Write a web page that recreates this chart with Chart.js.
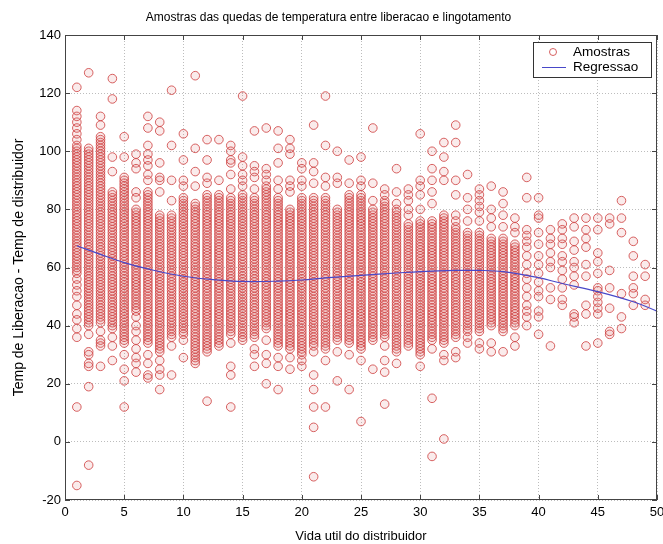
<!DOCTYPE html>
<html>
<head>
<meta charset="utf-8">
<title>Amostras das quedas de temperatura</title>
<script src="https://cdn.jsdelivr.net/npm/chart.js@4/dist/chart.umd.min.js"></script>
<style>
  html, body { margin: 0; padding: 0; background: #ffffff; }
  #wrap { width: 663px; height: 544px; position: relative; }
</style>
</head>
<body>
<div id="wrap"><canvas id="quedaChart"></canvas></div>
<script>
// Vida util (x) 1..50 - faixa densa de amostras por coluna (lo..hi, valores inteiros)
const vidaUtil = [
  1, 2, 3, 4, 5, 6, 7, 8, 9, 10,
  11, 12, 13, 14, 15, 16, 17, 18, 19, 20,
  21, 22, 23, 24, 25, 26, 27, 28, 29, 30,
  31, 32, 33, 34, 35, 36, 37, 38, 39, 40,
  41, 42, 43, 44, 45, 46, 47, 48, 49, 50
];
const faixaMin = [
  58, 40, 41, 39, 34, 45, 34, 31, 36, 37,
  27, 32, 33, 37, 35, 36, 39, 33, 32, 30,
  33, 32, 35, 34, 32, 35, 36, 31, 33, 30,
  35, 34, 36, 38, 38, 40, 38, 40, null, null,
  null, null, null, null, null, null, null, null, null, null
];
const faixaMax = [
  102, 101, 105, 86, 91, 80, 86, 78, 78, 84,
  82, 85, 84, 84, 85, 84, 88, 84, 80, 84,
  84, 84, 80, 85, 85, 80, 83, 80, 75, 76,
  76, 78, 74, 72, 72, 70, 70, 68, null, null,
  null, null, null, null, null, null, null, null, null, null
];

// Amostras isoladas fora da faixa densa, por coluna
const avulsas = [
  [104, 106, 108, 110, 112, 114, 122, 56, 54, 52, 50, 47, 44, 42, 39, 36, 12, -15],
  [127, 37, 31, 30, 27, 26, 19, -8],
  [112, 109, 38, 35, 34, 33, 26],
  [125, 118, 98, 93, 36, 33, 28],
  [105, 98, 30, 25, 21, 12],
  [99, 96, 94, 86, 84, 43, 40, 38, 35, 32, 29, 27, 24],
  [112, 108, 102, 99, 97, 95, 92, 90, 30, 27, 23, 22],
  [110, 107, 96, 91, 90, 86, 28, 25, 23, 18],
  [121, 102, 90, 83, 33, 23],
  [106, 97, 90, 88, 35, 29],
  [126, 101, 93, 88],
  [104, 97, 91, 89, 31, 14],
  [104, 90, 85],
  [102, 100, 97, 96, 92, 87, 34, 26, 23, 12],
  [119, 98, 95, 92, 90, 88],
  [107, 95, 93, 91, 87, 32, 30, 26],
  [108, 94, 92, 90, 35, 30, 27, 20],
  [107, 101, 96, 90, 87, 29, 26, 18],
  [104, 101, 99, 90, 88, 86, 29, 25],
  [96, 94, 90, 88, 28, 26],
  [109, 96, 93, 89, 31, 23, 18, 12, 5, -12],
  [119, 102, 91, 88, 28, 12],
  [100, 91, 89, 31, 21],
  [97, 89, 30, 18],
  [98, 90, 88, 28, 7],
  [108, 89, 83, 25],
  [87, 85, 33, 28, 24, 13],
  [94, 86, 82, 27],
  [87, 85, 83, 80, 78],
  [106, 90, 88, 85, 80, 26],
  [100, 94, 90, 86, 82, 32, 15, -5],
  [103, 98, 93, 90, 30, 28, 1],
  [109, 103, 90, 85, 78, 76, 31, 29],
  [92, 84, 80, 76, 36, 34],
  [87, 85, 83, 81, 79, 76, 34, 32],
  [88, 80, 77, 74, 34, 31],
  [86, 82, 78, 74, 31],
  [77, 74, 72, 36, 33],
  [91, 84, 73, 71, 69, 67, 64, 61, 58, 56, 53, 50, 47, 45, 43, 40],
  [84, 78, 77, 72, 68, 64, 61, 58, 55, 52, 50, 45, 43, 37],
  [73, 70, 68, 65, 62, 60, 53, 49, 33],
  [75, 73, 70, 68, 64, 62, 59, 56, 53, 49, 47],
  [77, 74, 69, 66, 62, 60, 57, 54, 44, 43, 41],
  [77, 73, 70, 67, 61, 57, 47, 44, 33],
  [77, 73, 65, 62, 58, 53, 52, 50, 48, 46, 44, 34],
  [77, 75, 59, 53, 46, 38, 37],
  [83, 77, 72, 51, 43, 39],
  [69, 64, 57, 53, 51, 47],
  [61, 57, 49, 47],
  []
];

// Curva de regressao
const regX = [1, 3, 5, 7, 10, 13, 15, 18, 20, 22, 25, 28, 30, 33, 35, 37, 39, 40, 42, 45, 48, 50];
const regY = [67.5, 64.5, 61.7, 59.5, 57, 55.7, 55.2, 55.3, 55.7, 56.4, 57.3, 58.1, 58.6, 59, 59, 58.6, 57.3, 56.5, 54.5, 51.7, 48.2, 45];

const xTicks = [0, 5, 10, 15, 20, 25, 30, 35, 40, 45, 50];
const yTicks = [-20, 0, 20, 40, 60, 80, 100, 120, 140];

const corAmostra = 'rgba(208, 70, 70, 0.85)';
const corPreench = 'rgba(215, 90, 90, 0.12)';
const corRegressao = '#4848c8';
const fonte = "'Liberation Sans', Arial, Helvetica, sans-serif";

// Pontos: faixa densa + avulsas
const amostras = [];
vidaUtil.forEach((x, i) => {
    if (faixaMin[i] !== null) {
        for (let y = faixaMin[i]; y <= faixaMax[i]; y++) amostras.push({ x: x, y: y });
    }
    avulsas[i].forEach(y => amostras.push({ x: x, y: y }));
});
const regressao = regX.map((x, i) => ({ x: x, y: regY[i] }));

// Caixa completa do grafico + marcas de escala para dentro (estilo MATLAB) + legenda
const moldura = {
    id: 'moldura',
    afterDatasetsDraw(chart) {
        const { ctx, chartArea: a, scales } = chart;
        ctx.save();
        ctx.strokeStyle = '#444';
        ctx.lineWidth = 1;
        ctx.strokeRect(a.left + 0.5, a.top + 0.5, a.right - a.left - 1, a.bottom - a.top - 1);
        ctx.beginPath();
        xTicks.forEach(v => {
            const px = Math.round(scales.x.getPixelForValue(v)) + 0.5;
            ctx.moveTo(px, a.bottom); ctx.lineTo(px, a.bottom - 5);
            ctx.moveTo(px, a.top); ctx.lineTo(px, a.top + 5);
        });
        yTicks.forEach(v => {
            const py = Math.round(scales.y.getPixelForValue(v)) + 0.5;
            ctx.moveTo(a.left, py); ctx.lineTo(a.left + 5, py);
            ctx.moveTo(a.right, py); ctx.lineTo(a.right - 5, py);
        });
        ctx.stroke();

        // legenda
        const bw = 118, bh = 35;
        const bx = a.right - bw - 6, by = a.top + 7;
        ctx.fillStyle = '#ffffff';
        ctx.fillRect(bx, by, bw, bh);
        ctx.strokeStyle = '#333';
        ctx.strokeRect(bx + 0.5, by + 0.5, bw, bh);
        ctx.strokeStyle = corAmostra;
        ctx.beginPath();
        ctx.arc(bx + 20, by + 10, 3.5, 0, Math.PI * 2);
        ctx.stroke();
        ctx.strokeStyle = corRegressao;
        ctx.beginPath();
        ctx.moveTo(bx + 9, by + 25.5); ctx.lineTo(bx + 33, by + 25.5);
        ctx.stroke();
        ctx.fillStyle = '#000';
        ctx.font = '13.5px ' + fonte;
        ctx.textBaseline = 'middle';
        ctx.fillText('Amostras', bx + 40, by + 10);
        ctx.fillText('Regressao', bx + 40, by + 25);
        ctx.restore();
    }
};

function initChart() {
    const canvas = document.getElementById('quedaChart');
    new Chart(canvas, {
        type: 'scatter',
        data: {
            datasets: [
                {
                    type: 'line',
                    label: 'Regressao',
                    data: regressao,
                    borderColor: corRegressao,
                    borderWidth: 1.2,
                    pointRadius: 0,
                    tension: 0.4,
                    fill: false,
                    order: 0
                },
                {
                    label: 'Amostras',
                    data: amostras,
                    pointStyle: 'circle',
                    pointRadius: 4.3,
                    pointBorderWidth: 1,
                    pointBackgroundColor: corPreench,
                    pointBorderColor: corAmostra,
                    order: 1
                }
            ]
        },
        options: {
            responsive: true,
            maintainAspectRatio: false,
            animation: false,
            layout: { padding: { left: 0, right: 6, top: 0, bottom: 0 } },
            plugins: {
                legend: { display: false },
                tooltip: { enabled: false },
                title: {
                    display: true,
                    text: 'Amostras das quedas de temperatura entre liberacao e lingotamento',
                    color: '#000',
                    font: { family: fonte, size: 12, weight: 'normal' },
                    padding: { top: 10, bottom: 10.6 }
                }
            },
            scales: {
                x: {
                    type: 'linear',
                    min: 0,
                    max: 50,
                    afterBuildTicks: s => { s.ticks = xTicks.map(v => ({ value: v })); },
                    afterFit: s => { s.height = 44; s.paddingLeft = 0; s.paddingRight = 0; },
                    ticks: { color: '#000', font: { family: fonte, size: 13 }, padding: 5, maxRotation: 0 },
                    grid: { color: '#bdbdbd', drawTicks: false, lineWidth: 1 },
                    border: { display: false, dash: [1, 2] },
                    title: {
                        display: true,
                        text: 'Vida util do distribuidor',
                        color: '#000',
                        font: { family: fonte, size: 13 },
                        padding: { top: 0, bottom: 0 }
                    }
                },
                y: {
                    type: 'linear',
                    min: -20,
                    max: 140,
                    afterBuildTicks: s => { s.ticks = yTicks.map(v => ({ value: v })); },
                    afterFit: s => { s.width = 65; s.paddingTop = 0; s.paddingBottom = 0; },
                    ticks: { color: '#000', font: { family: fonte, size: 13 }, padding: 4 },
                    grid: { color: '#bdbdbd', drawTicks: false, lineWidth: 1 },
                    border: { display: false, dash: [1, 2] },
                    title: {
                        display: true,
                        text: 'Temp de Liberacao - Temp de distribuidor',
                        color: '#000',
                        font: { family: fonte, size: 14 },
                        padding: { top: 11, bottom: 0 }
                    }
                }
            }
        },
        plugins: [moldura]
    });
}

document.addEventListener('DOMContentLoaded', initChart);
</script>
</body>
</html>
